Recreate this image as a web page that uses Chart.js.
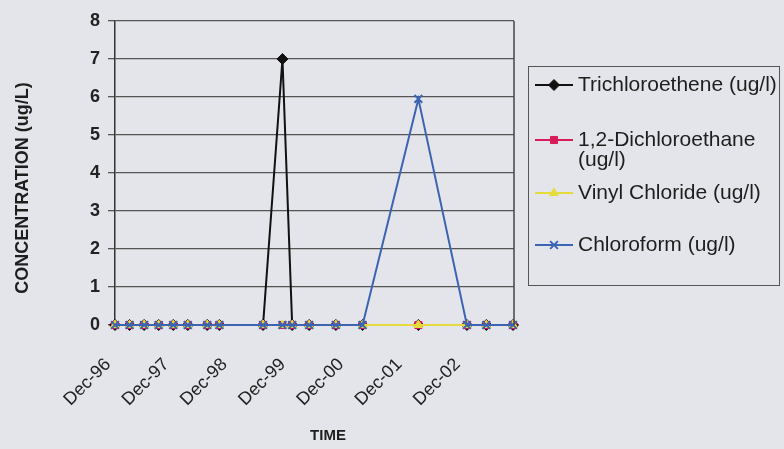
<!DOCTYPE html>
<html>
<head>
<meta charset="utf-8">
<title>Concentration vs time</title>
<script src="https://cdn.jsdelivr.net/npm/chart.js@4/dist/chart.umd.min.js"></script>
<style>
  html, body { margin: 0; padding: 0; background: #e4e5ea; }
  #wrap { width: 784px; height: 449px; }
</style>
</head>
<body>
<div id="wrap"><canvas id="chart" width="784" height="449"></canvas></div>
<script>
    "use strict";

    // Sampling dates, in months after Dec-96
    var sampleMonths = [0, 3, 6, 9, 12, 15, 19, 21.5, 30.5, 34.5, 36.5, 40, 45.5, 51, 62.5, 72.5, 76.5, 82];
    // Results (ug/l)
    var trichloroethene = [0, 0, 0, 0, 0, 0, 0, 0, 0, 7, 0, 0, 0, 0, 0, 0, 0, 0];
    var dichloroethane  = [0, 0, 0, 0, 0, 0, 0, 0, 0, 0, 0, 0, 0, 0, 0, 0, 0, 0];
    var vinylChloride   = [0, 0, 0, 0, 0, 0, 0, 0, 0, 0, 0, 0, 0, 0, 0, 0, 0, 0];
    var chloroform      = [0, 0, 0, 0, 0, 0, 0, 0, 0, 0, 0, 0, 0, 0, 5.95, 0, 0, 0];
    var tickLabels = ["Dec-96", "Dec-97", "Dec-98", "Dec-99", "Dec-00", "Dec-01", "Dec-02"];
    var seriesNames = ["Trichloroethene (ug/l)", "1,2-Dichloroethane (ug/l)", "Vinyl Chloride (ug/l)", "Chloroform (ug/l)"];

    var FONT = "'Liberation Sans', Arial, sans-serif";
    Chart.defaults.font.family = FONT;
    Chart.defaults.color = "#222";

    function points(values) {
        return values.map(function (v, i) { return { x: sampleMonths[i], y: v }; });
    }

    function series(i, values, color, style, radius, fill, order) {
        return {
            label: seriesNames[i],
            data: points(values),
            borderColor: color,
            borderWidth: 2,
            pointStyle: style,
            pointRadius: radius,
            pointBackgroundColor: fill,
            pointBorderColor: color,
            pointBorderWidth: style === "crossRot" ? 2 : 1,
            tension: 0,
            clip: false,
            order: order
        };
    }

    // Legend, axis titles and the plot frame, drawn Excel-style
    var extras = {
        id: "extras",
        afterDraw: function (chart) {
            var ctx = chart.ctx, area = chart.chartArea;
            ctx.save();

            ctx.strokeStyle = "#444";
            ctx.lineWidth = 1.5;
            ctx.beginPath();
            ctx.moveTo(area.right, area.top);
            ctx.lineTo(area.right, area.bottom);
            ctx.stroke();

            ctx.fillStyle = "#1e1e1e";
            ctx.textAlign = "center";
            ctx.textBaseline = "middle";
            ctx.font = "bold 18px " + FONT;
            ctx.save();
            ctx.translate(23, 188);
            ctx.rotate(-Math.PI / 2);
            ctx.fillText("CONCENTRATION (ug/L)", 0, 0);
            ctx.restore();
            ctx.font = "bold 15px " + FONT;
            ctx.fillText("TIME", 328, 436);

            // legend box
            ctx.strokeStyle = "#555";
            ctx.lineWidth = 1;
            ctx.strokeRect(528.5, 66.5, 251, 219);
            var rows = [85, 140, 193, 245];
            ctx.font = "21px " + FONT;
            ctx.textAlign = "left";
            chart.data.datasets.forEach(function (ds, i) {
                var y = rows[i];
                ctx.strokeStyle = ds.borderColor;
                ctx.lineWidth = 2;
                ctx.beginPath();
                ctx.moveTo(535, y);
                ctx.lineTo(573, y);
                ctx.stroke();
                ctx.fillStyle = ds.pointBackgroundColor;
                ctx.strokeStyle = ds.pointBorderColor;
                ctx.lineWidth = ds.pointBorderWidth;
                if (Chart.helpers && Chart.helpers.drawPoint) {
                    Chart.helpers.drawPoint(ctx, { pointStyle: ds.pointStyle, radius: ds.pointRadius, rotation: 0, borderWidth: ds.pointBorderWidth }, 554, y);
                } else {
                    ctx.fillRect(550, y - 4, 8, 8);
                }
                // wrap the label inside the box
                var words = ds.label.split(" "), lines = [], cur = "";
                words.forEach(function (w) {
                    var t = cur ? cur + " " + w : w;
                    if (cur && ctx.measureText(t).width > 200) { lines.push(cur); cur = w; } else { cur = t; }
                });
                lines.push(cur);
                ctx.fillStyle = "#1e1e1e";
                lines.forEach(function (ln, k) { ctx.fillText(ln, 578, y + k * 20); });
            });
            ctx.restore();
        }
    };

    var ctx1 = document.getElementById("chart").getContext("2d");
    var myChart = new Chart(ctx1, {
        type: "line",
        data: {
            datasets: [
                series(0, trichloroethene, "#111111", "rectRot", 5.5, "#111111", 4),
                series(1, dichloroethane, "#d81b5a", "rect", 5, "#d81b5a", 3),
                series(2, vinylChloride, "#e3dc3c", "triangle", 5, "#e3dc3c", 2),
                series(3, chloroform, "#3b64b3", "crossRot", 5.5, "#3b64b3", 1)
            ]
        },
        options: {
            responsive: false,
            animation: false,
            devicePixelRatio: 1,
            layout: { padding: { top: 21, right: 270, bottom: 0, left: 0 } },
            plugins: {
                legend: { display: false },
                tooltip: { enabled: false }
            },
            scales: {
                x: {
                    type: "linear",
                    min: 0,
                    max: 82.2,
                    afterBuildTicks: function (s) {
                        s.ticks = tickLabels.map(function (t, i) { return { value: i * 12 }; });
                    },
                    afterFit: function (s) { s.height = 124; },
                    grid: { display: false },
                    border: { color: "#333", width: 1.5 },
                    ticks: {
                        autoSkip: false,
                        minRotation: 45,
                        maxRotation: 45,
                        padding: 21,
                        labelOffset: -7,
                        font: { size: 18 },
                        callback: function (v) { return tickLabels[Math.round(v / 12)]; }
                    }
                },
                y: {
                    min: 0,
                    max: 8,
                    afterFit: function (s) { s.width = 115; },
                    grid: { color: "#555", lineWidth: 1.3, tickLength: 7 },
                    border: { color: "#333", width: 1.5 },
                    ticks: { stepSize: 1, padding: 8, font: { size: 18, weight: "bold" } }
                }
            }
        },
        plugins: [extras]
    });
</script>
</body>
</html>
